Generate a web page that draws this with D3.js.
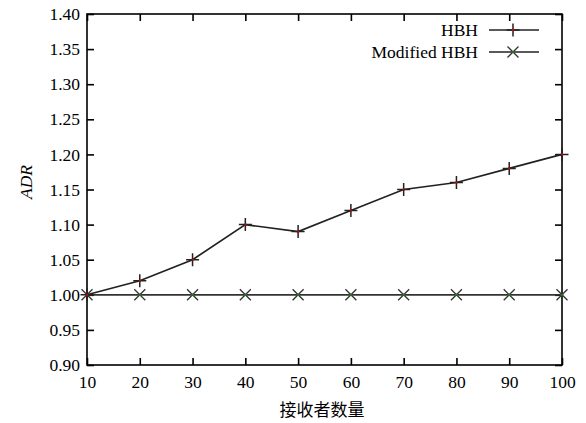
<!DOCTYPE html>
<html><head><meta charset="utf-8">
<script src="https://cdn.jsdelivr.net/npm/d3@7"></script>
<style>body{margin:0;background:#fff}svg{display:block}
svg text{font-family:"Liberation Serif","Times New Roman",serif}
svg text.cjk{font-family:"Noto Sans CJK SC",sans-serif}</style>
</head><body>
<script>
const categories = [10,20,30,40,50,60,70,80,90,100];
const hbh = [1.00,1.02,1.05,1.10,1.09,1.12,1.15,1.16,1.18,1.20];
const modHbh = [1.00,1.00,1.00,1.00,1.00,1.00,1.00,1.00,1.00,1.00];
const yTicks = [0.90,0.95,1.00,1.05,1.10,1.15,1.20,1.25,1.30,1.35,1.40];
const seriesNames = ["HBH","Modified HBH"];

const W=586,H=423;
const m={l:87,t:14,r:24,b:58};
const svg=d3.select("body").append("svg").attr("width",W).attr("height",H);
const x=d3.scaleLinear().domain([10,100]).range([m.l,W-m.r]);
const y=d3.scaleLinear().domain([0.9,1.4]).range([H-m.b,m.t]);
const fs=17.5;
const g=svg.append("g");

const tl=7;
g.append("g").attr("transform",`translate(0,${H-m.b})`).call(d3.axisBottom(x).tickValues(categories).tickSize(-tl).tickPadding(11).tickFormat(d3.format("d")));
g.append("g").attr("transform",`translate(0,${m.t})`).call(d3.axisTop(x).tickValues(categories).tickSize(-tl).tickFormat(""));
g.append("g").attr("transform",`translate(${m.l},0)`).call(d3.axisLeft(y).tickValues(yTicks).tickSize(-tl).tickPadding(7).tickFormat(d3.format(".2f")));
g.append("g").attr("transform",`translate(${W-m.r},0)`).call(d3.axisRight(y).tickValues(yTicks).tickSize(-tl).tickFormat(""));
g.selectAll(".domain").remove();
g.selectAll(".tick line").attr("stroke","#000").attr("stroke-width",1.6);
g.selectAll(".tick text").attr("fill","#000").attr("font-size",fs);
g.append("rect").attr("x",m.l).attr("y",m.t).attr("width",W-m.r-m.l).attr("height",H-m.b-m.t)
 .attr("fill","none").attr("stroke","#000").attr("stroke-width",1.6);

const line=d3.line().x((d,i)=>x(categories[i])).y(d=>y(d));
svg.append("path").datum(modHbh).attr("d",line).attr("fill","none").attr("stroke","#333").attr("stroke-width",1.7);
svg.append("path").datum(hbh).attr("d",line).attr("fill","none").attr("stroke","#222").attr("stroke-width",1.7);

function plus(sel,cx,cy){
  const s=6.5;
  sel.append("path").attr("d",`M${cx-s},${cy}H${cx+s}M${cx},${cy-s}V${cy+s}`).attr("stroke","#222").attr("stroke-width",1.5);
  sel.append("rect").attr("x",cx-1).attr("y",cy-1).attr("width",2).attr("height",2).attr("fill","#c00");
}
function cross(sel,cx,cy){
  const s=5.5;
  sel.append("path").attr("d",`M${cx-s},${cy-s}L${cx+s},${cy+s}M${cx-s},${cy+s}L${cx+s},${cy-s}`).attr("stroke","#333").attr("stroke-width",1.3);
  sel.append("rect").attr("x",cx-1.5).attr("y",cy-1).attr("width",3).attr("height",2).attr("fill","#1a7a1a");
}
modHbh.forEach((v,i)=>cross(svg,x(categories[i]),y(v)));
hbh.forEach((v,i)=>plus(svg,x(categories[i]),y(v)));

const lg=svg.append("g");
const ly=[30,52];
seriesNames.forEach((n,i)=>{
  lg.append("text").attr("x",478).attr("y",ly[i]+6).attr("text-anchor","end").attr("font-size",fs).text(n);
  lg.append("line").attr("x1",489).attr("x2",539).attr("y1",ly[i]).attr("y2",ly[i]).attr("stroke","#222").attr("stroke-width",1.6);
  if(i===0) plus(lg,513,ly[i]); else cross(lg,513,ly[i]);
});

svg.append("text").attr("transform",`translate(32,182) rotate(-90)`).attr("text-anchor","middle")
 .attr("font-style","italic").attr("font-size",fs).text("ADR");
svg.append("text").attr("class","cjk").attr("x",322).attr("y",416).attr("text-anchor","middle")
 .attr("font-size",17).text("接收者数量");
</script>
</body></html>
